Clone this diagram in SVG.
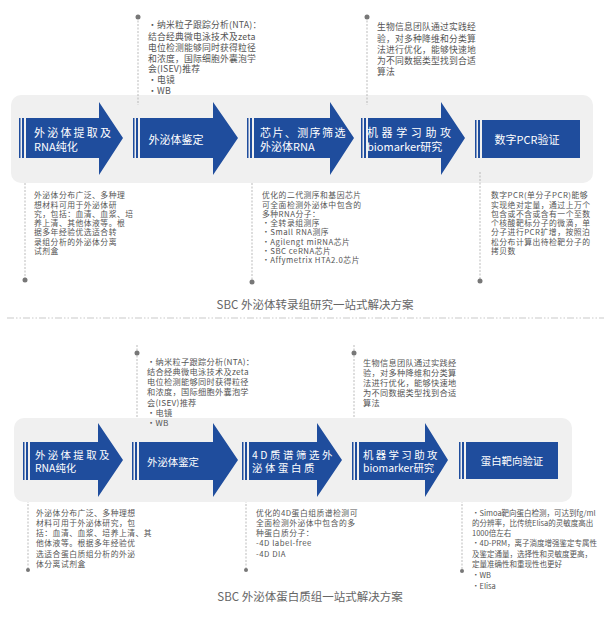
<svg xmlns="http://www.w3.org/2000/svg" width="611" height="624" viewBox="0 0 611 624">
<style>
.panel{fill:#f0f0f0}
.arrow{fill:#1f4d9d}
.bar{fill:#1f4d9d}
.lbl{font-family:"Noto Sans CJK SC","Noto Sans",sans-serif;font-size:11px;fill:#ffffff}
.lbl2{font-family:"Noto Sans CJK SC","Noto Sans",sans-serif;font-size:10.4px;fill:#ffffff}
.ann{font-family:"Noto Sans CJK SC","Noto Sans",sans-serif;font-size:8.8px;letter-spacing:0.2px;fill:#555555}
.ann3{font-family:"Noto Sans CJK SC","Noto Sans",sans-serif;font-size:8.2px;letter-spacing:0.3px;fill:#555555}
.ann2{font-family:"Noto Sans CJK SC","Noto Sans",sans-serif;font-size:7.8px;letter-spacing:0.5px;fill:#555555}
.ann4{font-family:"Noto Sans CJK SC","Noto Sans",sans-serif;font-size:7.5px;fill:#555555}
.cap{font-family:"Noto Sans CJK SC","Noto Sans",sans-serif;font-size:11.5px;fill:#666666}
.dash{stroke:#aaaaaa;stroke-width:0.8;stroke-dasharray:2 1.5;fill:none}
.dot{fill:#777777}
.sep{stroke:#bbbbbb;stroke-width:0.8;stroke-dasharray:7 2 1.5 2 1.5 2;fill:none}
</style>
<rect width="611" height="624" fill="#ffffff"/>

<!-- Section 1 -->
<rect class="panel" x="11" y="95" width="582" height="88" rx="10"/>

<g id="connectors">
  <line class="dash" x1="138" y1="17" x2="138" y2="105"/>
  <line class="dash" x1="367" y1="17" x2="367" y2="105"/>
  <line class="dash" x1="25" y1="183" x2="25" y2="280"/>
  <line class="dash" x1="252" y1="183" x2="252" y2="282"/>
  <line class="dash" x1="480" y1="172" x2="480" y2="281"/>
  <line class="dash" x1="137" y1="345" x2="137" y2="427"/>
  <line class="dash" x1="354" y1="345" x2="354" y2="427"/>
  <line class="dash" x1="28" y1="490" x2="28" y2="570"/>
  <line class="dash" x1="246" y1="490" x2="246" y2="570"/>
  <line class="dash" x1="462" y1="490" x2="462" y2="571"/>
  <circle class="dot" cx="138" cy="17" r="2.5"/>
  <circle class="dot" cx="367" cy="17" r="2.5"/>
  <circle class="dot" cx="25" cy="280" r="2.5"/>
  <circle class="dot" cx="252" cy="282" r="2.5"/>
  <circle class="dot" cx="480" cy="281" r="2.5"/>
  <circle class="dot" cx="137" cy="353" r="2.5"/>
  <circle class="dot" cx="354" cy="353" r="2.5"/>
  <circle class="dot" cx="28" cy="570" r="2"/>
  <circle class="dot" cx="246" cy="570" r="2"/>
  <circle class="dot" cx="462" cy="571" r="2"/>
</g>

<g id="s1-n1">
  <rect class="bar" x="19" y="118" width="1.5" height="40"/>
  <rect class="bar" x="22" y="118" width="2" height="40"/>
  <polygon class="arrow" points="26,118 99,118 99,102 123,138 99,175 99,158 26,158"/>
  <text class="lbl" x="34" y="136.5"><tspan letter-spacing="2.2">外泌体提取及</tspan><tspan x="34" y="151">RNA纯化</tspan></text>
</g>
<g id="s1-n2">
  <rect class="bar" x="133" y="118" width="1.5" height="40"/>
  <rect class="bar" x="136" y="118" width="2" height="40"/>
  <polygon class="arrow" points="140,118 213,118 213,102 238,138 213,175 213,158 140,158"/>
  <text class="lbl" x="176" y="144" text-anchor="middle">外泌体鉴定</text>
</g>
<g id="s1-n3">
  <rect class="bar" x="247" y="118" width="1.5" height="40"/>
  <rect class="bar" x="250" y="118" width="2" height="40"/>
  <polygon class="arrow" points="254,118 330,118 330,102 354,138 330,175 330,158 254,158"/>
  <text class="lbl" x="260" y="136.5"><tspan letter-spacing="1.4">芯片、测序筛选</tspan><tspan x="260" y="151">外泌体RNA</tspan></text>
</g>
<g id="s1-n4">
  <rect class="bar" x="361" y="118" width="1.5" height="40"/>
  <rect class="bar" x="364" y="118" width="2" height="40"/>
  <polygon class="arrow" points="368,118 441,118 441,102 465,138 441,175 441,158 368,158"/>
  <text class="lbl" x="367" y="136.5"><tspan letter-spacing="3.6">机器学习助攻</tspan><tspan x="367" y="150.5">biomarker研究</tspan></text>
</g>
<g id="s1-n5">
  <rect class="bar" x="475" y="120" width="1.5" height="38"/>
  <rect class="bar" x="478" y="120" width="2" height="38"/>
  <rect class="arrow" x="482" y="120" width="98" height="38"/>
  <text class="lbl" x="527" y="143.5" text-anchor="middle">数字PCR验证</text>
</g>

<g id="s1-a1">
  <text class="ann" x="148" y="28">·纳米粒子跟踪分析(NTA)：<tspan x="148" y="40">结合经典微电泳技术及zeta</tspan><tspan x="148" y="51">电位检测能够同时获得粒径</tspan><tspan x="148" y="61.5">和浓度，国际细胞外囊泡学</tspan><tspan x="148" y="72">会(ISEV)推荐</tspan><tspan x="148" y="83">·电镜</tspan><tspan x="148" y="94">·WB</tspan></text>
</g>
<g id="s1-a2">
  <text class="ann" x="377" y="30">生物信息团队通过实践经<tspan x="377" y="41.5">验，对多种降维和分类算</tspan><tspan x="377" y="52.5">法进行优化，能够快速地</tspan><tspan x="377" y="64">为不同数据类型找到合适</tspan><tspan x="377" y="75">算法</tspan></text>
</g>
<g id="s1-b1">
  <text class="ann2" x="34" y="198">外泌体分布广泛、多种理<tspan x="34" y="207.5">想材料可用于外泌体研</tspan><tspan x="34" y="216.5">究，包括：血清、血浆、培</tspan><tspan x="34" y="226">养上清、其他体液等。根</tspan><tspan x="34" y="235">据多年经验优选适合转</tspan><tspan x="34" y="244.5">录组分析的外泌体分离</tspan><tspan x="34" y="254">试剂盒</tspan></text>
</g>
<g id="s1-b3">
  <text class="ann2" x="262" y="198">优化的二代测序和基因芯片<tspan x="262" y="207.5">可全面检测外泌体中包含的</tspan><tspan x="262" y="216.5">多种RNA分子：</tspan><tspan x="262" y="226">·全转录组测序</tspan><tspan x="262" y="235">·Small RNA测序</tspan><tspan x="262" y="244.5">·Agilengt miRNA芯片</tspan><tspan x="262" y="253.5">·SBC ceRNA芯片</tspan><tspan x="262" y="262.5">·Affymetrix HTA2.0芯片</tspan></text>
</g>
<g id="s1-b5">
  <text class="ann2" x="491" y="198">数字PCR(单分子PCR)能够<tspan x="491" y="207.5">实现绝对定量，通过上万个</tspan><tspan x="491" y="216.5">包含或不含或含有一个至数</tspan><tspan x="491" y="226">个核酸靶标分子的微滴，单</tspan><tspan x="491" y="235">分子进行PCR扩增，按照泊</tspan><tspan x="491" y="244.5">松分布计算出待检靶分子的</tspan><tspan x="491" y="254">拷贝数</tspan></text>
</g>
<text class="cap" x="315" y="309" text-anchor="middle">SBC 外泌体转录组研究一站式解决方案</text>

<line class="sep" x1="7" y1="318" x2="604" y2="318"/>

<!-- Section 2 -->
<rect class="panel" x="14" y="418" width="558" height="84" rx="10"/>

<g id="s2-n1">
  <rect class="bar" x="23" y="442" width="1.5" height="38"/>
  <rect class="bar" x="26" y="442" width="2" height="38"/>
  <polygon class="arrow" points="30,442 98,442 98,423 123,460 98,497 98,480 30,480"/>
  <text class="lbl2" x="35" y="458.5"><tspan letter-spacing="2.4">外泌体提取及</tspan><tspan x="35" y="472">RNA纯化</tspan></text>
</g>
<g id="s2-n2">
  <rect class="bar" x="132" y="442" width="1.5" height="38"/>
  <rect class="bar" x="135" y="442" width="2" height="38"/>
  <polygon class="arrow" points="139,442 213,442 213,423 238,460 213,497 213,480 139,480"/>
  <text class="lbl2" x="173" y="465.5" text-anchor="middle">外泌体鉴定</text>
</g>
<g id="s2-n3">
  <rect class="bar" x="242" y="442" width="1.5" height="38"/>
  <rect class="bar" x="245" y="442" width="2" height="38"/>
  <polygon class="arrow" points="249,442 317,442 317,423 342,460 317,497 317,480 249,480"/>
  <text class="lbl2" x="252" y="458.5" letter-spacing="2.6">4D质谱筛选外<tspan x="252" y="472">泌体蛋白质</tspan></text>
</g>
<g id="s2-n4">
  <rect class="bar" x="352" y="442" width="1.5" height="38"/>
  <rect class="bar" x="355" y="442" width="2" height="38"/>
  <polygon class="arrow" points="359,442 425,442 425,423 448,460 425,497 425,480 359,480"/>
  <text class="lbl2" x="363" y="458.5"><tspan letter-spacing="2.4">机器学习助攻</tspan><tspan x="363" y="472">biomarker研究</tspan></text>
</g>
<g id="s2-n5">
  <rect class="bar" x="459" y="442" width="1.5" height="37"/>
  <rect class="bar" x="462" y="442" width="2" height="37"/>
  <rect class="arrow" x="466" y="442" width="92" height="37"/>
  <text class="lbl2" x="512" y="464.5" text-anchor="middle">蛋白靶向验证</text>
</g>

<g id="s2-a1">
  <text class="ann3" x="147" y="365">·纳米粒子跟踪分析(NTA)：<tspan x="147" y="375">结合经典微电泳技术及zeta</tspan><tspan x="147" y="385">电位检测能够同时获得粒径</tspan><tspan x="147" y="395">和浓度，国际细胞外囊泡学</tspan><tspan x="147" y="406">会(ISEV)推荐</tspan><tspan x="147" y="416">·电镜</tspan><tspan x="147" y="426">·WB</tspan></text>
</g>
<g id="s2-a2">
  <text class="ann3" x="363" y="366">生物信息团队通过实践经<tspan x="363" y="376">验，对多种降维和分类算</tspan><tspan x="363" y="386">法进行优化，能够快速地</tspan><tspan x="363" y="396">为不同数据类型找到合适</tspan><tspan x="363" y="406">算法</tspan></text>
</g>
<g id="s2-b1">
  <text class="ann2" x="36" y="516">外泌体分布广泛、多种理想<tspan x="36" y="526">材料可用于外泌体研究，包</tspan><tspan x="36" y="536">括：血清、血浆、培养上清、其</tspan><tspan x="36" y="546">他体液等。根据多年经验优</tspan><tspan x="36" y="557">选适合蛋白质组分析的外泌</tspan><tspan x="36" y="567">体分离试剂盒</tspan></text>
</g>
<g id="s2-b3">
  <text class="ann2" x="256" y="516">优化的4D蛋白组质谱检测可<tspan x="256" y="526">全面检测外泌体中包含的多</tspan><tspan x="256" y="536">种蛋白质分子：</tspan><tspan x="256" y="546">-4D label-free</tspan><tspan x="256" y="557">-4D DIA</tspan></text>
</g>
<g id="s2-b5">
  <text class="ann4" x="472" y="516">·Simoa靶向蛋白检测，可达到fg/ml<tspan x="472" y="526">的分辨率，比传统Elisa的灵敏度高出</tspan><tspan x="472" y="536">1000倍左右</tspan><tspan x="472" y="546">·4D-PRM，离子淌度增强鉴定专属性</tspan><tspan x="472" y="557">及鉴定通量，选择性和灵敏度更高，</tspan><tspan x="472" y="567">定量准确性和重现性也更好</tspan><tspan x="472" y="578">·WB</tspan><tspan x="472" y="589">·Elisa</tspan></text>
</g>
<text class="cap" x="310" y="601" text-anchor="middle">SBC 外泌体蛋白质组一站式解决方案</text>
</svg>
